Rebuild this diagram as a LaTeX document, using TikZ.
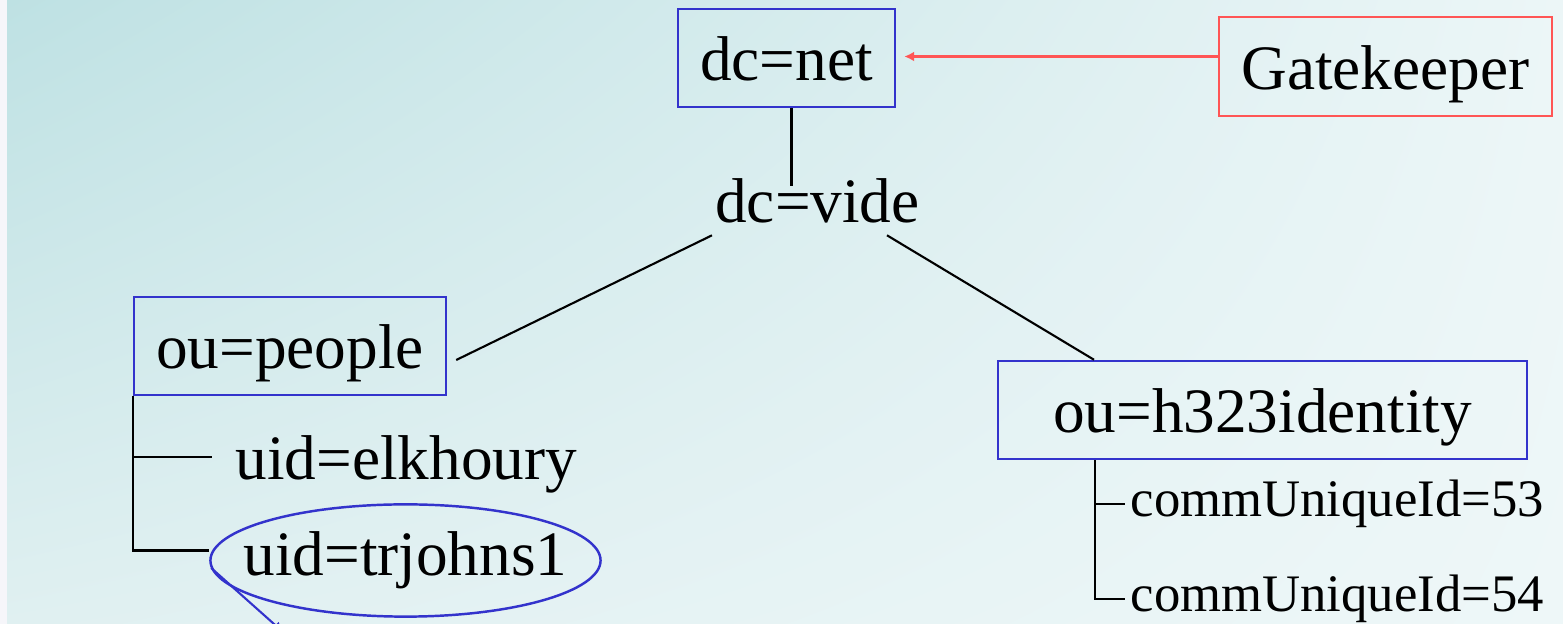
\documentclass[tikz,border=0pt]{standalone}
\usepackage{fontspec}
\setmainfont{Liberation Serif}
\usetikzlibrary{shapes.geometric, positioning, arrows.meta, shadings}

\definecolor{dnblue}{RGB}{51,51,204}
\definecolor{gkred}{RGB}{255,85,85}
\definecolor{bgtl}{RGB}{190,225,227}
\definecolor{bgtr}{RGB}{236,246,247}
\definecolor{bgbl}{RGB}{224,240,241}
\definecolor{bgbr}{RGB}{238,247,248}
\definecolor{bgstrip}{RGB}{246,246,250}

\begin{document}
\begin{tikzpicture}[
    bigtext/.style={font=\fontsize{18}{21}\selectfont},
    dnbox/.style={rectangle, draw=dnblue, line width=0.7pt, minimum height=0.98cm, bigtext, text height=0.5cm, text depth=0.04cm, text centered},
    gkbox/.style={rectangle, draw=gkred, line width=0.7pt, minimum height=0.99cm, bigtext, text height=0.5cm, text depth=0.04cm, text centered},
    leaf/.style={bigtext, inner ysep=0pt, inner xsep=2.3mm},
    cuid/.style={font=\fontsize{15}{18}\selectfont, inner ysep=0pt, inner xsep=0.5mm},
    tree/.style={black, line width=0.6pt}
]
    % Background
    \clip (0,0) rectangle (15.63,-6.24);
    \fill [bgstrip] (0,0) rectangle (15.63,-6.24);
    \shade [upper left=bgtl, upper right=bgtr, lower left=bgbl, lower right=bgbr] (0.07,0) rectangle (15.63,-6.24);

    % Directory entries
    \node [dnbox, minimum width=2.17cm] (net) at (7.865,-0.58) {dc=net};
    \node [gkbox, minimum width=3.33cm] (gk) at (13.855,-0.665) {Gatekeeper};
    \node [bigtext, anchor=base, inner sep=0pt] (vide) at (8.175,-2.23) {dc=vide};
    \node [dnbox, minimum width=3.12cm] (people) at (2.90,-3.46) {ou=people};
    \node [dnbox, minimum width=5.29cm] (h323) at (12.625,-4.10) {ou=h323identity};

    % Leaves
    \node [leaf, anchor=base west] (elk) at (2.12,-4.80) {uid=elkhoury};
    \node [ellipse, draw=dnblue, line width=0.7pt, bigtext, inner xsep=-2.4mm, inner ysep=1.1mm] (trj) at (4.055,-5.605) {uid=trjohns1};
    \node [cuid, anchor=base west] (c53) at (11.25,-5.17) {commUniqueId=53};
    \node [cuid, below=0.95cm of c53.base west, anchor=base west] (c54) {commUniqueId=54};
    \coordinate (hroot) at ([xshift=-16.75mm]h323.south);
    \coordinate (trjout) at (2.83,-6.32);

    % Arrows
    \draw [gkred, line width=0.7pt, -{Latex[length=1mm,width=1mm]}, shorten >=0.8mm] ([yshift=1mm]gk.west) -- ([yshift=1mm]gk.west -| net.east);
    \draw [dnblue, line width=0.6pt, -{Latex[length=1mm,width=1mm]}] ([shift={(0.02,-0.075)}]trj.west) -- (trjout);

    % Tree lines
    \draw [tree] ([xshift=0.5mm]net.south) -- ([xshift=0.5mm,yshift=-0.8mm]net.south |- vide.north);
    \draw [tree] ([shift={(-1.055,-0.11)}]vide.south) -- ([shift={(0.09,-0.14)}]people.east);
    \draw [tree] ([shift={(0.695,-0.11)}]vide.south) -- ([xshift=-16.85mm]h323.north);
    \draw [tree] (people.south west) |- ([yshift=1mm]trj.west);
    \draw [tree] ([yshift=0.8mm]elk.west) -| (people.south west);
    \draw [tree] (hroot) |- (c53.west);
    \draw [tree] (hroot) |- (c54.west);

\end{tikzpicture}
\end{document}
